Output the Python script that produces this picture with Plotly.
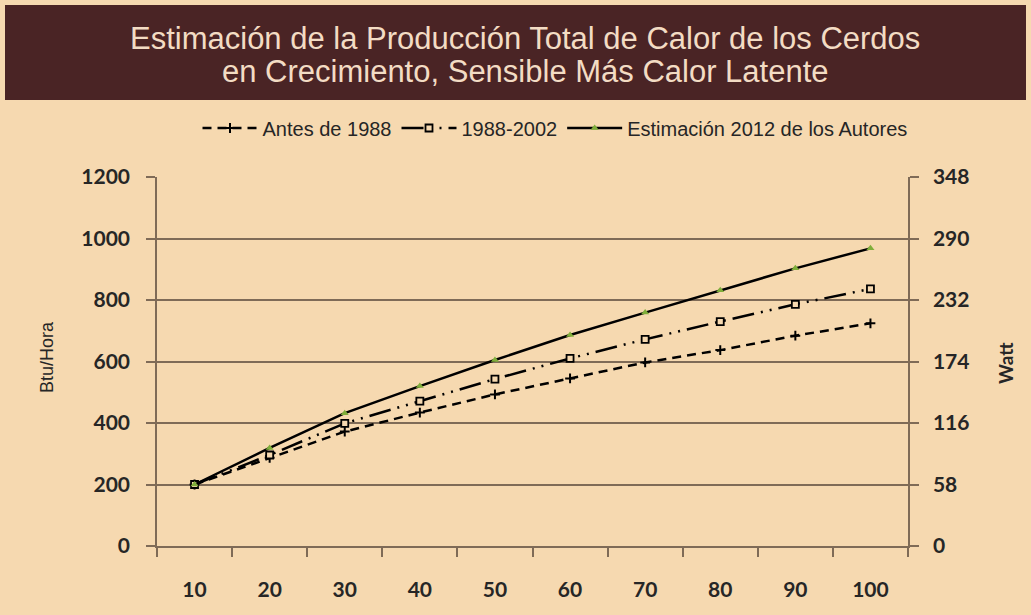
import plotly.graph_objects as go

# ---- data ----
peso = ["10", "20", "30", "40", "50", "60", "70", "80", "90", "100"]
antes_1988 = [200, 287, 372, 434, 493, 545, 597, 637, 684, 724]
p1988_2002 = [200, 296, 399, 471, 543, 610, 672, 730, 786, 836]
est_2012 = [200, 319, 432, 520, 605, 686, 759, 832, 903, 968]
btu_ticks = [0, 200, 400, 600, 800, 1000, 1200]
watt_ticks = [0, 58, 116, 174, 232, 290, 348]

BG = "#f6d9b0"
GRID = "#7f6b57"
TXT = "#262626"

fig = go.Figure()
fig.add_trace(go.Scatter(
    x=peso, y=antes_1988, name="Antes de 1988", mode="lines+markers",
    line=dict(color="black", width=2.5, dash="9px,6px"),
    marker=dict(symbol="cross-thin", size=7, line=dict(color="black", width=2)),
))
fig.add_trace(go.Scatter(
    x=peso, y=p1988_2002, name="1988-2002", mode="lines+markers",
    line=dict(color="black", width=2.5, dash="22px,7px,2px,7px,2px,7px"),
    marker=dict(symbol="square", size=7, color=BG, line=dict(color="black", width=1.8)),
))
fig.add_trace(go.Scatter(
    x=peso, y=est_2012, name="Estimación 2012 de los Autores", mode="lines+markers",
    line=dict(color="black", width=2.5),
    marker=dict(symbol="triangle-up", size=7, color="#7fae3a"),
))
# invisible trace for right axis
fig.add_trace(go.Scatter(x=peso, y=[None]*len(peso), yaxis="y2", showlegend=False,
                         hoverinfo="skip", mode="lines"))

L, R, T, B = 157, 123, 177, 69
W, H = 1031, 615
pw, ph = W - L - R, H - T - B

def px_x(x):
    return (x - L) / pw

def px_y(y):
    return (H - B - y) / ph

tickfont = dict(family="Lato", size=21, color=TXT, weight="bold")
fig.update_layout(
    width=W, height=H,
    margin=dict(l=L, r=R, t=T, b=B),
    paper_bgcolor=BG, plot_bgcolor=BG,
    showlegend=True,
    legend=dict(orientation="h", x=px_x(555), xanchor="center", y=px_y(128), yanchor="middle",
                font=dict(family="Liberation Sans", size=20, color=TXT),
                bgcolor="rgba(0,0,0,0)", itemwidth=55, tracegroupgap=0),
    xaxis=dict(type="category", range=[-0.5, 9.5], tickson="boundaries", ticks="outside",
               ticklen=9, tickcolor=GRID, tickwidth=1.5, showgrid=False,
               showline=True, linecolor=GRID, linewidth=1.5, tickfont=tickfont,
               ticklabelstandoff=24, zeroline=False),
    yaxis=dict(range=[0, 1200], tickvals=btu_ticks, ticks="outside", ticklen=9,
               tickcolor=GRID, tickwidth=1.5, showgrid=True, gridcolor=GRID, gridwidth=1.5,
               showline=True, linecolor=GRID, linewidth=1.5, zeroline=False,
               tickfont=tickfont, ticklabelstandoff=12),
    yaxis2=dict(range=[0, 348], tickvals=watt_ticks, overlaying="y", side="right",
                ticks="outside", ticklen=9, tickcolor=GRID, tickwidth=1.5, showgrid=False,
                showline=True, linecolor=GRID, linewidth=1.5, zeroline=False,
                tickfont=tickfont, ticklabelstandoff=10),
)

# axis titles
fig.add_annotation(text="Btu/Hora", xref="paper", yref="paper", x=px_x(47), y=px_y(357),
                   textangle=-90, showarrow=False, xanchor="center", yanchor="middle",
                   font=dict(family="Liberation Sans", size=18, color=TXT))
fig.add_annotation(text="Watt", xref="paper", yref="paper", x=px_x(1005), y=px_y(363),
                   textangle=-90, showarrow=False, xanchor="center", yanchor="middle",
                   font=dict(family="Lato", size=19, color=TXT, weight="bold"))

# title band
fig.add_shape(type="rect", xref="paper", yref="paper",
              x0=px_x(5), x1=px_x(1026), y0=px_y(100), y1=px_y(5),
              fillcolor="#4a2425", line=dict(width=0), layer="below")
for txt, yy in [("Estimación de la Producción Total de Calor de los Cerdos", 38),
                ("en Crecimiento, Sensible Más Calor Latente", 72)]:
    fig.add_annotation(text=txt, xref="paper", yref="paper", x=px_x(525), y=px_y(yy),
                       xanchor="center", yanchor="middle", showarrow=False,
                       font=dict(family="Liberation Sans", size=31, color="#f3dcc4"))

fig.write_html("out.html")
